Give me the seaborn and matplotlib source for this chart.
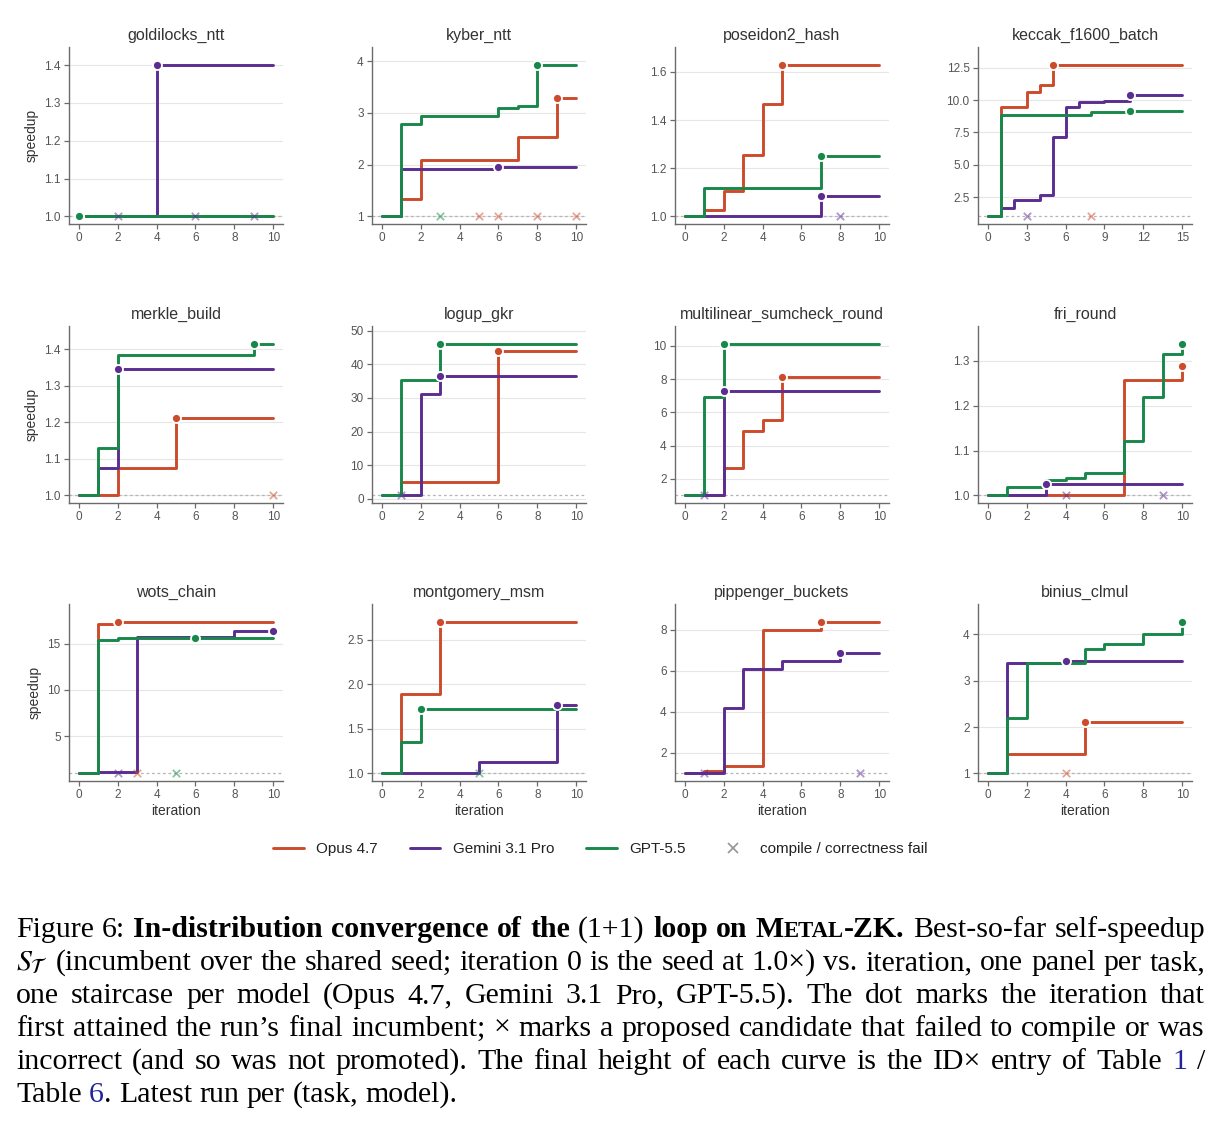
import numpy as np
import pandas as pd
import matplotlib
matplotlib.use("Agg")
import matplotlib.pyplot as plt
from matplotlib.lines import Line2D
from matplotlib.ticker import MaxNLocator
from matplotlib.transforms import IdentityTransform
import seaborn as sns

# ---------------------------------------------------------------------------
# data: best-so-far self-speedup per iteration (iteration 0 = seed = 1.0)
# ---------------------------------------------------------------------------
MODELS = ["Opus 4.7", "Gemini 3.1 Pro", "GPT-5.5"]
COLORS = {"Opus 4.7": "#CC4B2B", "Gemini 3.1 Pro": "#5C2D91", "GPT-5.5": "#18884A"}
SEED = 1.0

TASKS = [
    "goldilocks_ntt", "kyber_ntt", "poseidon2_hash", "keccak_f1600_batch",
    "merkle_build", "logup_gkr", "multilinear_sumcheck_round", "fri_round",
    "wots_chain", "montgomery_msm", "pippenger_buckets", "binius_clmul",
]

goldilocks_ntt = {
    "Opus 4.7":       [1.00, 1.00, 1.00, 1.00, 1.00, 1.00, 1.00, 1.00, 1.00, 1.00, 1.00],
    "Gemini 3.1 Pro": [1.00, 1.00, 1.00, 1.00, 1.40, 1.40, 1.40, 1.40, 1.40, 1.40, 1.40],
    "GPT-5.5":        [1.00, 1.00, 1.00, 1.00, 1.00, 1.00, 1.00, 1.00, 1.00, 1.00, 1.00],
}
kyber_ntt = {
    "Opus 4.7":       [1.00, 1.33, 2.08, 2.08, 2.08, 2.08, 2.08, 2.54, 2.54, 3.28, 3.28],
    "Gemini 3.1 Pro": [1.00, 1.92, 1.92, 1.92, 1.92, 1.92, 1.95, 1.95, 1.95, 1.95, 1.95],
    "GPT-5.5":        [1.00, 2.79, 2.93, 2.93, 2.93, 2.93, 3.10, 3.13, 3.92, 3.92, 3.92],
}
poseidon2_hash = {
    "Opus 4.7":       [1.000, 1.025, 1.106, 1.254, 1.465, 1.628, 1.628, 1.628, 1.628, 1.628, 1.628],
    "Gemini 3.1 Pro": [1.000, 1.000, 1.000, 1.000, 1.000, 1.000, 1.000, 1.086, 1.086, 1.086, 1.086],
    "GPT-5.5":        [1.000, 1.118, 1.118, 1.118, 1.118, 1.118, 1.118, 1.251, 1.251, 1.251, 1.251],
}
keccak_f1600_batch = {
    "Opus 4.7":       [1.00, 9.44, 9.44, 10.67, 11.14, 12.71, 12.71, 12.71, 12.71, 12.71, 12.71,
                       12.71, 12.71, 12.71, 12.71, 12.71],
    "Gemini 3.1 Pro": [1.00, 1.64, 2.24, 2.24, 2.68, 7.13, 9.44, 9.85, 9.85, 9.90, 9.90,
                       10.41, 10.41, 10.41, 10.41, 10.41],
    "GPT-5.5":        [1.00, 8.86, 8.86, 8.86, 8.86, 8.86, 8.86, 8.86, 9.12, 9.12, 9.12,
                       9.17, 9.17, 9.17, 9.17, 9.17],
}
merkle_build = {
    "Opus 4.7":       [1.000, 1.000, 1.074, 1.074, 1.074, 1.211, 1.211, 1.211, 1.211, 1.211, 1.211],
    "Gemini 3.1 Pro": [1.000, 1.075, 1.346, 1.346, 1.346, 1.346, 1.346, 1.346, 1.346, 1.346, 1.346],
    "GPT-5.5":        [1.000, 1.131, 1.385, 1.385, 1.385, 1.385, 1.385, 1.385, 1.385, 1.414, 1.414],
}
logup_gkr = {
    "Opus 4.7":       [1.0, 4.9, 4.9, 4.9, 4.9, 4.9, 44.0, 44.0, 44.0, 44.0, 44.0],
    "Gemini 3.1 Pro": [1.0, 1.0, 31.2, 36.4, 36.4, 36.4, 36.4, 36.4, 36.4, 36.4, 36.4],
    "GPT-5.5":        [1.0, 35.2, 35.2, 46.0, 46.0, 46.0, 46.0, 46.0, 46.0, 46.0, 46.0],
}
multilinear_sumcheck_round = {
    "Opus 4.7":       [1.00, 1.00, 2.63, 4.90, 5.53, 8.14, 8.14, 8.14, 8.14, 8.14, 8.14],
    "Gemini 3.1 Pro": [1.00, 1.00, 7.29, 7.29, 7.29, 7.29, 7.29, 7.29, 7.29, 7.29, 7.29],
    "GPT-5.5":        [1.00, 6.90, 10.10, 10.10, 10.10, 10.10, 10.10, 10.10, 10.10, 10.10, 10.10],
}
fri_round = {
    "Opus 4.7":       [1.000, 1.000, 1.000, 1.000, 1.000, 1.000, 1.000, 1.258, 1.258, 1.258, 1.289],
    "Gemini 3.1 Pro": [1.000, 1.000, 1.000, 1.026, 1.026, 1.026, 1.026, 1.026, 1.026, 1.026, 1.026],
    "GPT-5.5":        [1.000, 1.019, 1.019, 1.034, 1.038, 1.049, 1.049, 1.121, 1.220, 1.314, 1.337],
}
wots_chain = {
    "Opus 4.7":       [1.00, 17.15, 17.30, 17.30, 17.30, 17.30, 17.30, 17.30, 17.30, 17.30, 17.30],
    "Gemini 3.1 Pro": [1.00, 1.17, 1.17, 15.69, 15.69, 15.69, 15.69, 15.69, 16.30, 16.30, 16.40],
    "GPT-5.5":        [1.00, 15.33, 15.55, 15.55, 15.55, 15.55, 15.62, 15.62, 15.62, 15.62, 15.62],
}
montgomery_msm = {
    "Opus 4.7":       [1.000, 1.897, 1.897, 2.700, 2.700, 2.700, 2.700, 2.700, 2.700, 2.700, 2.700],
    "Gemini 3.1 Pro": [1.000, 1.000, 1.000, 1.000, 1.000, 1.126, 1.126, 1.126, 1.126, 1.767, 1.767],
    "GPT-5.5":        [1.000, 1.355, 1.729, 1.729, 1.729, 1.729, 1.729, 1.729, 1.729, 1.729, 1.729],
}
pippenger_buckets = {
    "Opus 4.7":       [1.00, 1.14, 1.36, 1.37, 8.00, 8.00, 8.00, 8.37, 8.37, 8.37, 8.37],
    "Gemini 3.1 Pro": [1.00, 1.00, 4.18, 6.07, 6.07, 6.48, 6.48, 6.48, 6.89, 6.89, 6.89],
}
binius_clmul = {
    "Opus 4.7":       [1.00, 1.42, 1.42, 1.42, 1.42, 2.11, 2.11, 2.11, 2.11, 2.11, 2.11],
    "Gemini 3.1 Pro": [1.00, 3.39, 3.39, 3.39, 3.43, 3.43, 3.43, 3.43, 3.43, 3.43, 3.43],
    "GPT-5.5":        [1.00, 2.20, 3.38, 3.38, 3.38, 3.69, 3.79, 3.79, 4.00, 4.00, 4.26],
}

RUNS = {
    "goldilocks_ntt": goldilocks_ntt, "kyber_ntt": kyber_ntt,
    "poseidon2_hash": poseidon2_hash, "keccak_f1600_batch": keccak_f1600_batch,
    "merkle_build": merkle_build, "logup_gkr": logup_gkr,
    "multilinear_sumcheck_round": multilinear_sumcheck_round, "fri_round": fri_round,
    "wots_chain": wots_chain, "montgomery_msm": montgomery_msm,
    "pippenger_buckets": pippenger_buckets, "binius_clmul": binius_clmul,
}

# iterations whose candidate failed to compile or was incorrect
FAILS = {
    "goldilocks_ntt": {"Gemini 3.1 Pro": [2, 6, 9]},
    "kyber_ntt": {"GPT-5.5": [3], "Opus 4.7": [5, 6, 8, 10]},
    "poseidon2_hash": {"Gemini 3.1 Pro": [8]},
    "keccak_f1600_batch": {"Gemini 3.1 Pro": [3], "Opus 4.7": [8]},
    "merkle_build": {"Opus 4.7": [10]},
    "logup_gkr": {"Gemini 3.1 Pro": [1]},
    "multilinear_sumcheck_round": {"Gemini 3.1 Pro": [1]},
    "fri_round": {"Gemini 3.1 Pro": [4, 9]},
    "wots_chain": {"Gemini 3.1 Pro": [2], "Opus 4.7": [3], "GPT-5.5": [5]},
    "montgomery_msm": {"GPT-5.5": [5]},
    "pippenger_buckets": {"Gemini 3.1 Pro": [1, 9]},
    "binius_clmul": {"Opus 4.7": [4]},
}

CAPTION_SIZE = 21.5
CAPTION_LINES = [
    [("Figure 6: ", "r"), ("In-distribution convergence of the", "b"), (" (1+1) ", "r"),
     ("loop on ", "b"), ("M", "b"), ("ETAL", "sc"), ("-ZK.", "b"), (" Best-so-far self-speedup", "r")],
    [(r"$S_{\mathcal{T}}$", "m"),
     (" (incumbent over the shared seed; iteration 0 is the seed at 1.0×) vs. iteration, one panel per task,", "r")],
    [("one staircase per model (Opus 4.7, Gemini 3.1 Pro, GPT-5.5).  The dot marks the iteration that", "r")],
    [("first attained the run’s final incumbent; × marks a proposed candidate that failed to compile or was", "r")],
    [("incorrect (and so was not promoted).  The final height of each curve is the ID× entry of Table ", "r"),
     ("1", "link"), (" /", "r")],
    [("Table ", "r"), ("6", "link"), (". Latest run per (task, model).", "r")],
]

# ---------------------------------------------------------------------------
W, H, DPI = 1223, 1125, 100
AX_LEFT = [69, 372, 675, 978]
AX_TOP = [47, 326, 604]
AX_W, AX_H = 214, 177

sns.set_theme(style="ticks")
plt.rcParams["font.family"] = ["Liberation Sans", "DejaVu Sans"]
plt.rcParams["mathtext.fontset"] = "stix"

SERIF = ["Liberation Serif", "DejaVu Serif"]
CAPTION_STYLES = {
    "r": dict(family=SERIF, fontsize=CAPTION_SIZE, color="black"),
    "b": dict(family=SERIF, fontsize=CAPTION_SIZE, color="black", weight="bold"),
    "sc": dict(family=SERIF, fontsize=CAPTION_SIZE * 0.76, color="black", weight="bold"),
    "m": dict(family=SERIF, fontsize=CAPTION_SIZE, color="black"),
    "link": dict(family=SERIF, fontsize=CAPTION_SIZE, color="#23239a"),
}


def to_long(task):
    rows = []
    for model in MODELS:
        vals = RUNS[task].get(model)
        if vals is None:
            continue
        for it, v in enumerate(vals):
            rows.append({"model": model, "iteration": it, "speedup": v})
    return pd.DataFrame(rows)


def style_axis(ax):
    for side in ("top", "right"):
        ax.spines[side].set_visible(False)
    for side in ("left", "bottom"):
        ax.spines[side].set_color("#6b6b6b")
        ax.spines[side].set_linewidth(1.0)
    ax.tick_params(axis="both", length=3.5, width=0.9, color="#6b6b6b",
                   labelcolor="#555555", labelsize=8.5, pad=2.5)
    ax.xaxis.set_major_locator(MaxNLocator(nbins=6, steps=[1, 2, 3, 5, 10]))
    ax.yaxis.set_major_locator(MaxNLocator(nbins=6, steps=[1, 2, 2.5, 5, 10]))
    ax.yaxis.grid(True, color="#e6e6e6", linewidth=0.8)
    ax.xaxis.grid(False)
    ax.set_axisbelow(True)


def plot_task(ax, task):
    df = to_long(task)
    present = [m for m in MODELS if m in RUNS[task]]
    ax.axhline(SEED, color="#b5b5b5", linestyle=(0, (2.2, 2.2)), linewidth=0.9, zorder=1)
    sns.lineplot(data=df, x="iteration", y="speedup", hue="model", hue_order=present,
                 palette=COLORS, drawstyle="steps-post", linewidth=2.1, estimator=None,
                 legend=False, ax=ax, zorder=2)

    for model, iters in FAILS.get(task, {}).items():
        ax.scatter(iters, [SEED] * len(iters), marker="x", s=28, linewidths=1.3,
                   color=COLORS[model], alpha=0.5, zorder=3)

    for model in present:
        vals = np.asarray(RUNS[task][model])
        first = int(np.argmax(vals >= vals[-1]))
        ax.plot([first], [vals[-1]], marker="o", ms=6.5, color=COLORS[model],
                mec="white", mew=1.3, ls="none", zorder=5)

    n = df["iteration"].max()
    lo, hi = df["speedup"].min(), df["speedup"].max()
    span = hi - lo
    ax.set_xlim(-0.05 * n, 1.05 * n)
    ax.set_ylim(lo - 0.05 * span, hi + 0.12 * span)
    ax.set_title(task, fontsize=11.5, color="#333333", pad=5)
    ax.set_xlabel("")
    ax.set_ylabel("")
    style_axis(ax)


def split_words(segs):
    words = [[]]
    for text, style in segs:
        for i, piece in enumerate(text.split(" ")):
            if i > 0:
                words.append([])
            if piece:
                words[-1].append((piece, style))
    return [w for w in words if w]


def draw_caption(fig, lines, left, right, base0, step):
    renderer = fig.canvas.get_renderer()
    px = IdentityTransform()
    space = 0.25 * CAPTION_SIZE * DPI / 72
    for n, segs in enumerate(lines):
        words = split_words(segs)
        placed, widths = [], []
        for word in words:
            parts, total = [], 0.0
            for piece, style in word:
                t = fig.text(0, 0, piece, transform=px, ha="left", va="baseline",
                             **CAPTION_STYLES[style])
                w = t.get_window_extent(renderer).width
                parts.append((t, w))
                total += w
            placed.append(parts)
            widths.append(total)
        if n == len(lines) - 1:
            gap = space
        else:
            gap = (right - left - sum(widths)) / (len(words) - 1)
        x = left
        y = H - (base0 + n * step)
        for parts, total in zip(placed, widths):
            xx = x
            for t, w in parts:
                t.set_position((xx, y))
                xx += w
            x += total + gap


fig = plt.figure(figsize=(W / DPI, H / DPI), dpi=DPI)

for k, task in enumerate(TASKS):
    r, c = divmod(k, 4)
    rect = [AX_LEFT[c] / W, 1 - (AX_TOP[r] + AX_H) / H, AX_W / W, AX_H / H]
    ax = fig.add_axes(rect)
    plot_task(ax, task)
    if c == 0:
        ax.set_ylabel("speedup", fontsize=10, color="#333333", labelpad=4)
    if r == 2:
        ax.set_xlabel("iteration", fontsize=10, color="#333333", labelpad=2)

handles = [Line2D([], [], color=COLORS[m], lw=2.1) for m in MODELS]
handles.append(Line2D([], [], ls="none", marker="x", ms=7, mew=1.3, color="#9a9a9a"))
labels = MODELS + ["compile / correctness fail"]
fig.legend(handles, labels, loc="center", bbox_to_anchor=(0.491, 1 - 849 / H), ncol=4,
           frameon=False, fontsize=11, handlelength=2.0, handletextpad=0.8,
           columnspacing=2.1, labelcolor="#222222")

draw_caption(fig, CAPTION_LINES, 16, 1205, 937, 33)

fig.savefig("out.png", dpi=DPI, facecolor="white")
